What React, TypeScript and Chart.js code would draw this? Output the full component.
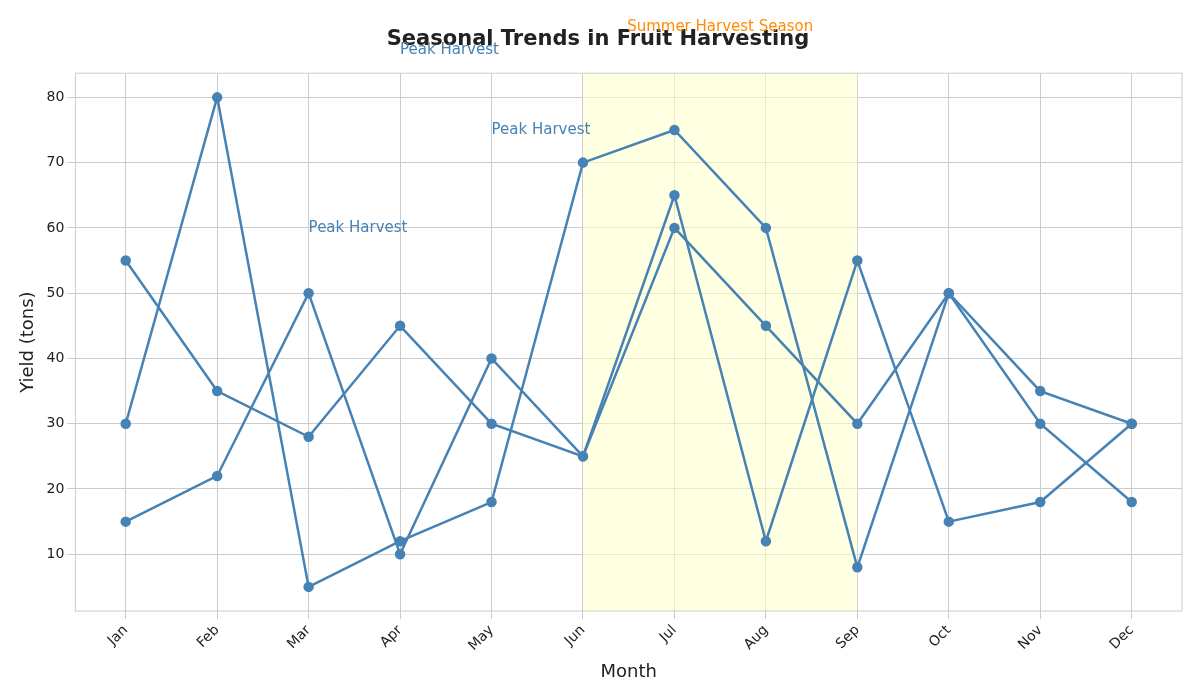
import React, { useEffect, useRef } from 'react';
import Chart from 'chart.js/auto';

const months = ['Jan', 'Feb', 'Mar', 'Apr', 'May', 'Jun', 'Jul', 'Aug', 'Sep', 'Oct', 'Nov', 'Dec'];
const seriesA = [30, 80, 5, 12, 18, 70, 75, 60, 8, 50, 30, 18];
const seriesB = [55, 35, 28, 45, 30, 25, 60, 45, 30, 50, 35, 30];
const seriesC = [15, 22, 50, 10, 40, 25, 65, 12, 55, 15, 18, 30];
const yTicks = [10, 20, 30, 40, 50, 60, 70, 80];
const peakLabels = [
  { x: 3, y: 87.2, text: 'Peak Harvest' },
  { x: 4, y: 75, text: 'Peak Harvest' },
  { x: 2, y: 60, text: 'Peak Harvest' },
];
const seasonStart = 5;
const seasonEnd = 8;

const toPoints = (vals: number[]) => vals.map((y, i) => ({ x: i, y }));

const overlay = {
  id: 'overlay',
  beforeDatasetsDraw(chart: any) {
    const { ctx, scales, chartArea } = chart;
    const x0 = scales.x.getPixelForValue(seasonStart);
    const x1 = scales.x.getPixelForValue(seasonEnd);
    ctx.save();
    ctx.fillStyle = 'rgba(255,255,200,0.55)';
    ctx.fillRect(x0, chartArea.top, x1 - x0, chartArea.bottom - chartArea.top);
    ctx.restore();
  },
  afterDraw(chart: any) {
    const { ctx, scales, chartArea } = chart;
    ctx.save();
    ctx.font = '15px "DejaVu Sans"';
    ctx.textBaseline = 'middle';
    ctx.fillStyle = '#4682b4';
    for (const p of peakLabels) {
      ctx.fillText(p.text, scales.x.getPixelForValue(p.x), scales.y.getPixelForValue(p.y));
    }
    ctx.fillStyle = '#ff8c00';
    ctx.textAlign = 'center';
    ctx.fillText('Summer Harvest Season', (scales.x.getPixelForValue(seasonStart) + scales.x.getPixelForValue(seasonEnd)) / 2, 27);
    ctx.strokeStyle = '#ccc';
    ctx.lineWidth = 1;
    ctx.strokeRect(chartArea.left, chartArea.top, chartArea.right - chartArea.left, chartArea.bottom - chartArea.top);
    ctx.restore();
  },
};

const App = () => {
  const chartRef = useRef<HTMLCanvasElement>(null);

  useEffect(() => {
    document.body.style.margin = '0';
    if (!chartRef.current) return;
    const ds = (data: number[]) => ({
      data: toPoints(data),
      borderColor: '#4682b4',
      backgroundColor: '#4682b4',
      borderWidth: 2.5,
      pointRadius: 4,
      tension: 0,
    });
    const chart = new Chart(chartRef.current, {
      type: 'line',
      data: { datasets: [ds(seriesA), ds(seriesB), ds(seriesC)] },
      plugins: [overlay],
      options: {
        animation: false,
        responsive: false,
        layout: { padding: { top: 10, right: 18, left: 14, bottom: 13 } },
        plugins: {
          legend: { display: false },
          tooltip: { enabled: false },
          title: {
            display: true,
            text: 'Seasonal Trends in Fruit Harvesting',
            color: '#222',
            font: { size: 21, weight: 'bold', family: 'DejaVu Sans' },
            padding: { top: 17, bottom: 21 },
          },
        },
        scales: {
          x: {
            type: 'linear',
            min: -0.55,
            max: 11.55,
            afterBuildTicks: (axis: any) => {
              axis.ticks = months.map((_, i) => ({ value: i }));
            },
            ticks: {
              callback: (v: any) => months[v],
              maxRotation: 45,
              minRotation: 45,
              color: '#222',
              font: { size: 14, family: 'DejaVu Sans' },
            },
            grid: { color: '#ccc' },
            border: { display: false },
            title: { display: true, text: 'Month', color: '#222', font: { size: 18, family: 'DejaVu Sans' } },
          },
          y: {
            min: 1.3,
            max: 83.7,
            afterBuildTicks: (axis: any) => {
              axis.ticks = yTicks.map((value) => ({ value }));
            },
            ticks: { color: '#222', font: { size: 14, family: 'DejaVu Sans' } },
            grid: { color: '#ccc' },
            border: { display: false },
            title: { display: true, text: 'Yield (tons)', color: '#222', font: { size: 18, family: 'DejaVu Sans' } },
          },
        },
      },
    });
    return () => {
      chart.destroy();
    };
  }, []);

  return (
    <div>
      <canvas ref={chartRef} width={1200} height={700} />
    </div>
  );
};

export default App;
